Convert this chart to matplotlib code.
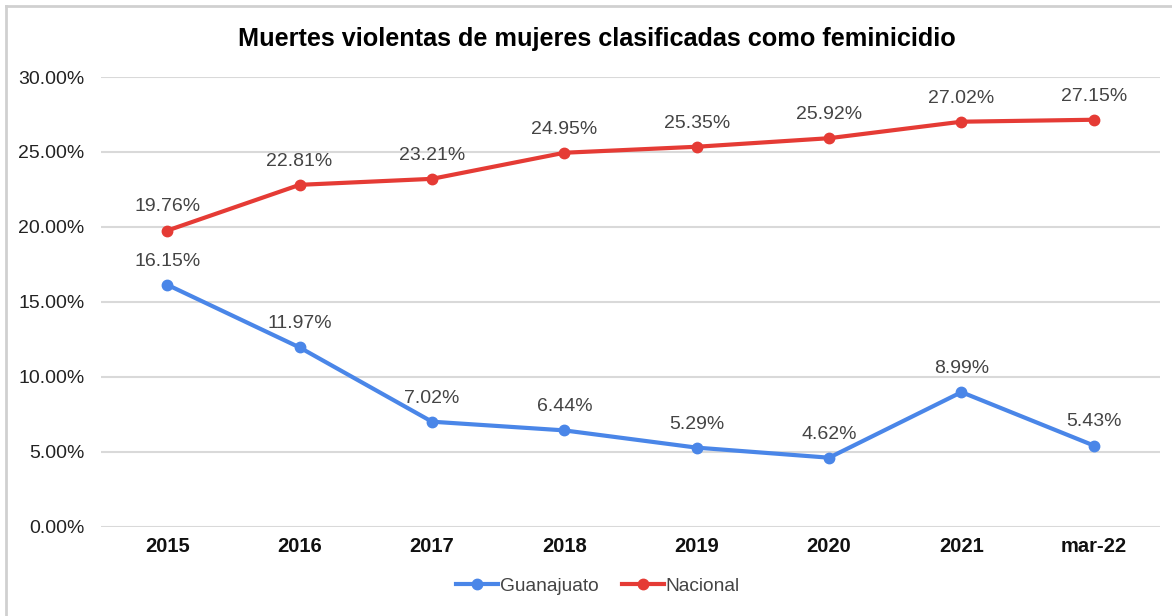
import matplotlib.pyplot as plt
from matplotlib.lines import Line2D

plt.rcParams['font.family'] = ['Liberation Sans', 'DejaVu Sans']

periodos = ["2015", "2016", "2017", "2018", "2019", "2020", "2021", "mar-22"]
guanajuato = [16.15, 11.97, 7.02, 6.44, 5.29, 4.62, 8.99, 5.43]
nacional = [19.76, 22.81, 23.21, 24.95, 25.35, 25.92, 27.02, 27.15]
y_ticks = [0, 5, 10, 15, 20, 25, 30]

azul = "#4A86E8"
rojo = "#E53B35"

fig = plt.figure(figsize=(11.72, 6.16), dpi=100)
ax = fig.add_axes([0.0862, 0.1445, 0.9036, 0.7305])

x = range(len(periodos))
for serie, color, nombre in [(guanajuato, azul, "Guanajuato"), (nacional, rojo, "Nacional")]:
    ax.plot(x, serie, color=color, lw=3, marker="o", ms=7.5, label=nombre, zorder=3)
    for xi, v in zip(x, serie):
        ax.annotate(f"{v:.2f}%", (xi, v), xytext=(0, 17), textcoords="offset points",
                    ha="center", va="center", fontsize=14, color="#444444")

ax.set_xlim(-0.5, len(periodos) - 0.5)
ax.set_ylim(0, 30)
ax.set_yticks(y_ticks)
ax.set_yticklabels([f"{t:.2f}%" for t in y_ticks], fontsize=14, color="#222222")
ax.set_xticks(list(x))
ax.set_xticklabels(periodos, fontsize=14.5, fontweight="bold", color="#111111")
ax.tick_params(length=0, axis="y", pad=12)
ax.tick_params(length=0, axis="x", pad=7)
ax.grid(axis="y", color="#d9d9d9", lw=1.5)
ax.set_axisbelow(True)
for s in ax.spines.values():
    s.set_visible(False)

fig.text(0.509, 0.936, "Muertes violentas de mujeres clasificadas como feminicidio",
         ha="center", va="center", fontsize=18.2, fontweight="bold")

handles = [Line2D([], [], color=azul, lw=3, marker="o", ms=7.5),
           Line2D([], [], color=rojo, lw=3, marker="o", ms=7.5)]
fig.legend(handles, ["Guanajuato", "Nacional"], loc="center", bbox_to_anchor=(0.51, 0.049),
           ncol=2, frameon=False, fontsize=13.8, handlelength=2.2, handletextpad=0.1,
           columnspacing=1.2, labelcolor="#444444")

# borde de la imagen
fig.add_artist(Line2D([0.0055, 0.0055], [0, 0.99], transform=fig.transFigure, color="#d0d0d0", lw=2))
fig.add_artist(Line2D([0.0055, 1], [0.99, 0.99], transform=fig.transFigure, color="#d0d0d0", lw=2))

fig.savefig("out.png", dpi=100)
